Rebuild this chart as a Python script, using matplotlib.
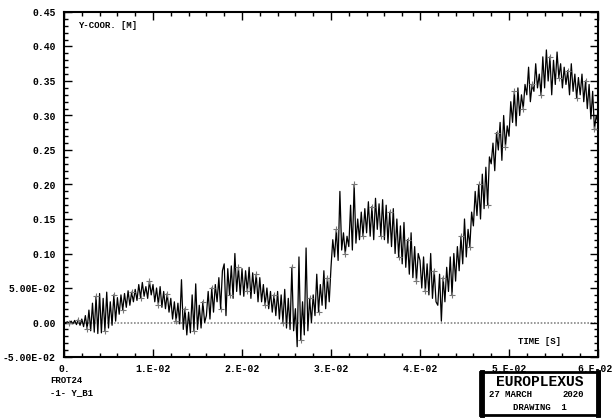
import matplotlib
matplotlib.use('Agg')
import matplotlib.pyplot as plt
import matplotlib.transforms as mtransforms
import numpy as np
from matplotlib.patches import Rectangle
from matplotlib.ticker import MultipleLocator, FixedLocator

# time step between samples [s]
dt = 0.0002

# Y_B1 displacement, in mm (10 samples per row = 2 ms)
y_b1_mm = [
    0, 0, 1, -1, 2, -2, 3, -3, 4, -4,
    5, -6, 10, -9, 18, -12, 28, -14, 38, -16,
    42, -15, 35, -12, 44, -8, 30, -4, 40, 2,
    36, 12, 40, 18, 42, 22, 46, 25, 44, 30,
    48, 32, 55, 36, 58, 38, 52, 35, 60, 40,
    55, 30, 50, 26, 52, 22, 45, 20, 42, 15,
    35, 5, 30, 2, 28, -2, 62, -10, 20, -18,
    15, -15, 40, -12, 56, -10, 25, -8, 30, 0,
    10, 45, 5, 50, 15, 55, 30, 65, 20, 75,
    85, 10, 78, 40, 82, 35, 100, 45, 80, 40,
    78, 38, 75, 45, 80, 35, 72, 42, 70, 30,
    65, 30, 55, 25, 50, 20, 45, 15, 40, 10,
    45, 5, 40, 0, 48, -8, 35, -10, 80, -12,
    20, -35, 95, -25, 30, -18, 108, -12, 35, 0,
    40, 10, 70, 15, 55, 25, 75, 20, 65, 30,
    80, 120, 95, 135, 90, 190, 105, 130, 100, 125,
    110, 170, 105, 200, 115, 150, 120, 160, 125, 165,
    130, 175, 125, 168, 120, 180, 135, 172, 125, 178,
    120, 170, 115, 160, 110, 165, 100, 150, 95, 140,
    85, 145, 80, 120, 70, 130, 65, 110, 60, 100,
    90, 50, 95, 45, 85, 40, 100, 35, 75, 30,
    25, 70, 2, 65, 30, 80, 45, 95, 40, 100,
    60, 110, 75, 125, 85, 150, 95, 135, 110, 160,
    140, 190, 155, 200, 150, 215, 165, 225, 170, 240,
    230, 260, 220, 275, 250, 290, 235, 300, 255, 285,
    270, 320, 290, 335, 285, 340, 300, 330, 310, 345,
    330, 370, 320, 345, 335, 375, 340, 360, 330, 385,
    340, 395, 350, 385, 330, 380, 345, 392, 355, 375,
    340, 370, 345, 365, 330, 375, 335, 360, 325, 355,
    330, 360, 320, 350, 310, 345, 295, 335, 280, 300,
    290,
]

x_ticks = [0.0, 0.01, 0.02, 0.03, 0.04, 0.05, 0.06]
x_tick_labels = ['0.', '1.E-02', '2.E-02', '3.E-02', '4.E-02', '5.E-02', '6.E-02']
y_ticks = [-0.05, 0.0, 0.05, 0.10, 0.15, 0.20, 0.25, 0.30, 0.35, 0.40, 0.45]
y_tick_labels = ['-5.00E-02', '0.00', '5.00E-02', '0.10', '0.15', '0.20',
                 '0.25', '0.30', '0.35', '0.40', '0.45']

W, H = 614, 419
mono = 'Liberation Mono'


def px(x, y):
  # pixel position -> figure fraction
  return x / W, 1 - y / H


def main():
  t = np.arange(len(y_b1_mm)) * dt
  y = np.array(y_b1_mm) / 1000.0

  fig = plt.figure(figsize=(W / 100, H / 100), dpi=100)
  ax = fig.add_axes([64 / W, 1 - 357 / H, (598 - 64) / W, (357 - 12) / H])

  ax.axhline(0.0, color='#888888', linestyle=(0, (1, 1)), linewidth=1.2, zorder=1)
  ax.plot(t, y, color='black', linewidth=0.9, zorder=2)
  ax.plot(t[3::5], y[3::5], linestyle='none', marker='+', markersize=5,
          markeredgewidth=0.8, color='#777777', zorder=3)

  ax.set_xlim(0.0, 0.06)
  ax.set_ylim(-0.05, 0.45)

  ax.xaxis.set_major_locator(FixedLocator(x_ticks))
  ax.set_xticklabels(x_tick_labels)
  ax.yaxis.set_major_locator(FixedLocator(y_ticks))
  ax.set_yticklabels(y_tick_labels)
  ax.xaxis.set_minor_locator(MultipleLocator(0.002))
  ax.yaxis.set_minor_locator(MultipleLocator(0.01))

  ax.tick_params(which='both', direction='in', top=True, right=True, width=1.0, color='black')
  ax.tick_params(which='major', length=6)
  ax.tick_params(which='minor', length=3)
  ax.tick_params(axis='x', pad=5)
  ax.tick_params(axis='y', pad=6)
  for lab in ax.get_xticklabels() + ax.get_yticklabels():
    lab.set_fontfamily(mono)
    lab.set_fontweight('bold')
    lab.set_fontsize(7)

  # last x label sits at the figure edge: nudge it left so it stays whole
  last = ax.get_xticklabels()[-1]
  last.set_transform(last.get_transform() +
                     mtransforms.ScaledTranslation(-3 / 100, 0, fig.dpi_scale_trans))

  for s in ax.spines.values():
    s.set_linewidth(1.5)
    s.set_color('black')

  txt = dict(family=mono, weight='bold', fontsize=6.5, color='black')
  fig.text(*px(78, 25), 'Y-COOR. [M]', va='center', ha='left', **txt)
  fig.text(*px(518, 342), 'TIME [S]', va='center', ha='left', **txt)
  fig.text(*px(50, 380), 'FROT24', va='center', ha='left', **txt)
  fig.text(*px(50, 393), '-1- Y_B1', va='center', ha='left', **txt)

  # title block
  bx0, by0, bx1, by1 = 480, 372, 599, 415
  fig.patches.append(Rectangle(px(bx0, by1), (bx1 - bx0) / W, (by1 - by0) / H,
                               transform=fig.transFigure, fill=False,
                               edgecolor='black', linewidth=2.0))
  fig.add_artist(plt.Line2D([px(bx0 + 1.5, 0)[0]] * 2, [px(0, by0)[1], px(0, by1)[1]],
                            transform=fig.transFigure, color='black', linewidth=3.5))
  fig.add_artist(plt.Line2D([px(bx1 - 1.5, 0)[0]] * 2, [px(0, by0)[1], px(0, by1)[1]],
                            transform=fig.transFigure, color='black', linewidth=3.5))
  fig.text(*px(539.5, 382), 'EUROPLEXUS', ha='center', va='center',
           family=mono, weight='bold', fontsize=10.5)
  fig.text(*px(489, 394), '27 MARCH', ha='left', va='center', **txt)
  fig.text(*px(584, 394), '2020', ha='right', va='center', **txt)
  fig.text(*px(540, 407), 'DRAWING  1', ha='center', va='center', **txt)

  fig.savefig('out.png', dpi=100)


if __name__ == '__main__':
  main()
